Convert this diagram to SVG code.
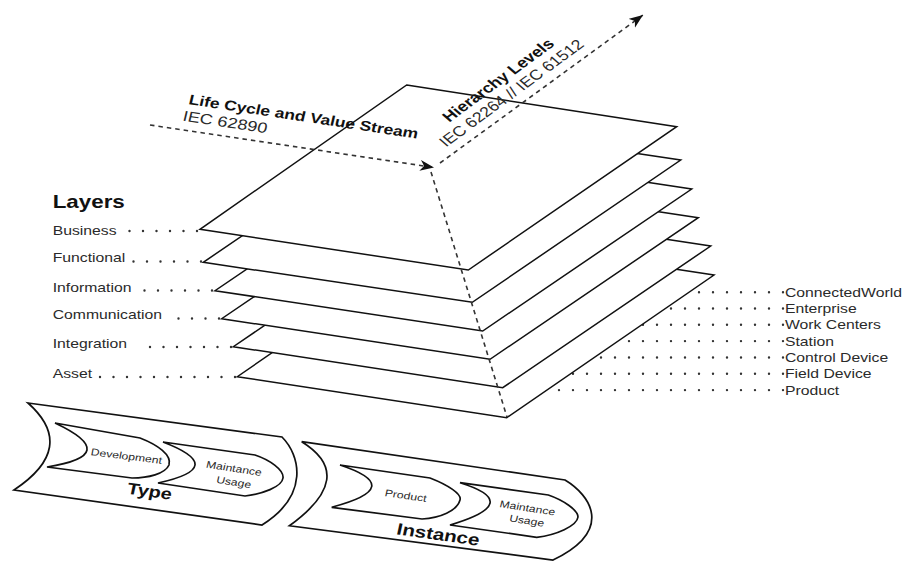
<svg xmlns="http://www.w3.org/2000/svg" width="903" height="562" viewBox="0 0 903 562">
<defs>
<marker id="arr" markerUnits="userSpaceOnUse" viewBox="0 0 16 12" markerWidth="16" markerHeight="12" refX="14" refY="5.5" orient="auto">
<path d="M0,0 L14,5.5 L0,11 L4,5.5 Z" fill="#111"/>
</marker>
<style>
.plane{fill:#fff;stroke:#111;stroke-width:1.5}
.chev{fill:#fff;stroke:#111;stroke-width:1.7}
.axis{fill:none;stroke:#333;stroke-width:1.6;stroke-dasharray:4.5 4}
.dots{fill:none;stroke:#333;stroke-width:2.4;stroke-linecap:round;stroke-dasharray:0 13.5}
.dotsr{fill:none;stroke:#333;stroke-width:2.4;stroke-linecap:round;stroke-dasharray:0 14}
.lbl{font-family:"Liberation Sans",Arial,sans-serif;font-size:12.6px;fill:#2a2a2a}
.b{font-weight:bold;fill:#111}
.sm{font-size:9.8px}
</style>
</defs>
<rect width="903" height="562" fill="#fff"/>

<g id="connectors-right">
<line class="dotsr" x1="783" y1="292.2" x2="540" y2="292.2"/>
<line class="dotsr" x1="783" y1="308.5" x2="540" y2="308.5"/>
<line class="dotsr" x1="783" y1="324.8" x2="540" y2="324.8"/>
<line class="dotsr" x1="783" y1="341.1" x2="540" y2="341.1"/>
<line class="dotsr" x1="783" y1="357.5" x2="540" y2="357.5"/>
<line class="dotsr" x1="783" y1="373.8" x2="540" y2="373.8"/>
<line class="dotsr" x1="783" y1="390.1" x2="540" y2="390.1"/>
</g>

<g id="layer-asset"><polygon class="plane" points="444.6,234 714,275 506.7,417.7 237.3,376.7"/></g>
<g id="layer-integration"><polygon class="plane" points="441.3,205 710.7,246 502.7,387.7 233.3,346.7"/></g>
<g id="layer-communication"><polygon class="plane" points="430,177.1 698.3,217.7 490,359.3 221.7,318.7"/></g>
<g id="layer-information"><polygon class="plane" points="424,148.7 691.7,189 482.7,331 215,290.7"/></g>
<g id="layer-functional"><polygon class="plane" points="411.7,120 680.7,160 472.3,302.3 203.3,262.3"/></g>
<g id="layer-business"><polygon class="plane" points="406.7,85 676.7,126.7 468.3,270 200,229.3"/></g>

<g id="connectors">
<line class="dots" x1="197" y1="231" x2="125" y2="231"/>
<line class="dots" x1="201" y1="261.5" x2="128" y2="261.5"/>
<line class="dots" x1="212" y1="290.5" x2="140" y2="290.5"/>
<line class="dots" x1="219" y1="318.5" x2="168" y2="318.5"/>
<line class="dots" x1="231" y1="347" x2="139" y2="347"/>
<line class="dots" x1="235" y1="377" x2="99" y2="377"/>
<line class="axis" x1="150" y1="125" x2="434" y2="167.5" marker-end="url(#arr)"/>
<line class="axis" x1="440" y1="163" x2="643" y2="15" marker-end="url(#arr)"/>
<line class="axis" x1="431" y1="172" x2="507" y2="417"/>
</g>

<g id="axis-labels">
<text class="lbl b" style="font-size:14px" transform="translate(188,104) scale(1.25,1) rotate(10.7)">Life Cycle and Value Stream</text>
<text class="lbl" style="font-size:14.5px" transform="translate(182,120.5) scale(1.25,1) rotate(10.7)">IEC 62890</text>
<text class="lbl b" style="font-size:14.4px" transform="translate(449.3,122.7) scale(1.25,1) rotate(-42.5)">Hierarchy Levels</text>
<text class="lbl" style="font-size:14.3px" transform="translate(446,147.5) scale(1.25,1) rotate(-42.5)">IEC 62264 // IEC 61512</text>
</g>

<g id="layer-labels">
<text class="lbl b" style="font-size:17.9px" transform="translate(52.7,207.7) scale(1.25,1)">Layers</text>
<text class="lbl" transform="translate(52.7,235) scale(1.25,1)">Business</text>
<text class="lbl" transform="translate(52.7,262.3) scale(1.25,1)">Functional</text>
<text class="lbl" transform="translate(52.7,291.7) scale(1.25,1)">Information</text>
<text class="lbl" transform="translate(52.7,319.3) scale(1.25,1)">Communication</text>
<text class="lbl" transform="translate(52.7,348.3) scale(1.25,1)">Integration</text>
<text class="lbl" transform="translate(52.7,378.3) scale(1.25,1)">Asset</text>
</g>

<g id="level-labels">
<text class="lbl" transform="translate(785,296.7) scale(1.25,1)">ConnectedWorld</text>
<text class="lbl" transform="translate(785,313) scale(1.25,1)">Enterprise</text>
<text class="lbl" transform="translate(785,329.3) scale(1.25,1)">Work Centers</text>
<text class="lbl" transform="translate(785,345.6) scale(1.25,1)">Station</text>
<text class="lbl" transform="translate(785,362) scale(1.25,1)">Control Device</text>
<text class="lbl" transform="translate(785,378.3) scale(1.25,1)">Field Device</text>
<text class="lbl" transform="translate(785,394.6) scale(1.25,1)">Product</text>
</g>

<g id="type">
<path class="chev" d="M28,403 L282,437 C300,455 310,495 262,525 L14,490 Q78,447.5 28,403 Z"/>
<path class="chev" d="M55,423 L140,438 C158,445 172,455 169,465 C165,474 148,478 132,478 L47,467 Q123,455 55,423 Z"/>
<path class="chev" d="M163,442 L255,455 C270,460 284,470 283,478 C282,487 262,494 245,496 L158,483 Q229.5,467.5 163,442 Z"/>
<text class="lbl sm" text-anchor="middle" transform="translate(125.8,459.5) scale(1.25,1) rotate(8.9)">Development</text>
<text class="lbl sm" text-anchor="middle" transform="translate(233.3,471.7) scale(1.25,1) rotate(10.9)">Maintance</text>
<text class="lbl sm" text-anchor="middle" transform="translate(233,485.5) scale(1.25,1) rotate(10.9)">Usage</text>
<text class="lbl b" style="font-size:16px" text-anchor="middle" transform="translate(148.5,496.7) scale(1.25,1) rotate(9.9)">Type</text>
</g>

<g id="instance">
<path class="chev" d="M301.7,441.7 L565,480 C590,495 615,530 553,560 L289.4,525.8 Q357.8,476.25 301.7,441.7 Z"/>
<path class="chev" d="M340,465 L430,478 C448,485 462,494 460,500 C457,511 440,518 422,519 L331.7,507.3 Q407.5,487.25 340,465 Z"/>
<path class="chev" d="M460,482.7 L548.3,495 C563,500 578,510 578,517 C577,526 556,535 536.7,537.3 L450,525 Q525,502.75 460,482.7 Z"/>
<text class="lbl sm" text-anchor="middle" transform="translate(405,499) scale(1.25,1) rotate(10)">Product</text>
<text class="lbl sm" text-anchor="middle" transform="translate(526.7,511.3) scale(1.25,1) rotate(10.9)">Maintance</text>
<text class="lbl sm" text-anchor="middle" transform="translate(526,524) scale(1.25,1) rotate(10.9)">Usage</text>
<text class="lbl b" style="font-size:16.5px" text-anchor="middle" transform="translate(437,540) scale(1.25,1) rotate(10)">Instance</text>
</g>
</svg>
